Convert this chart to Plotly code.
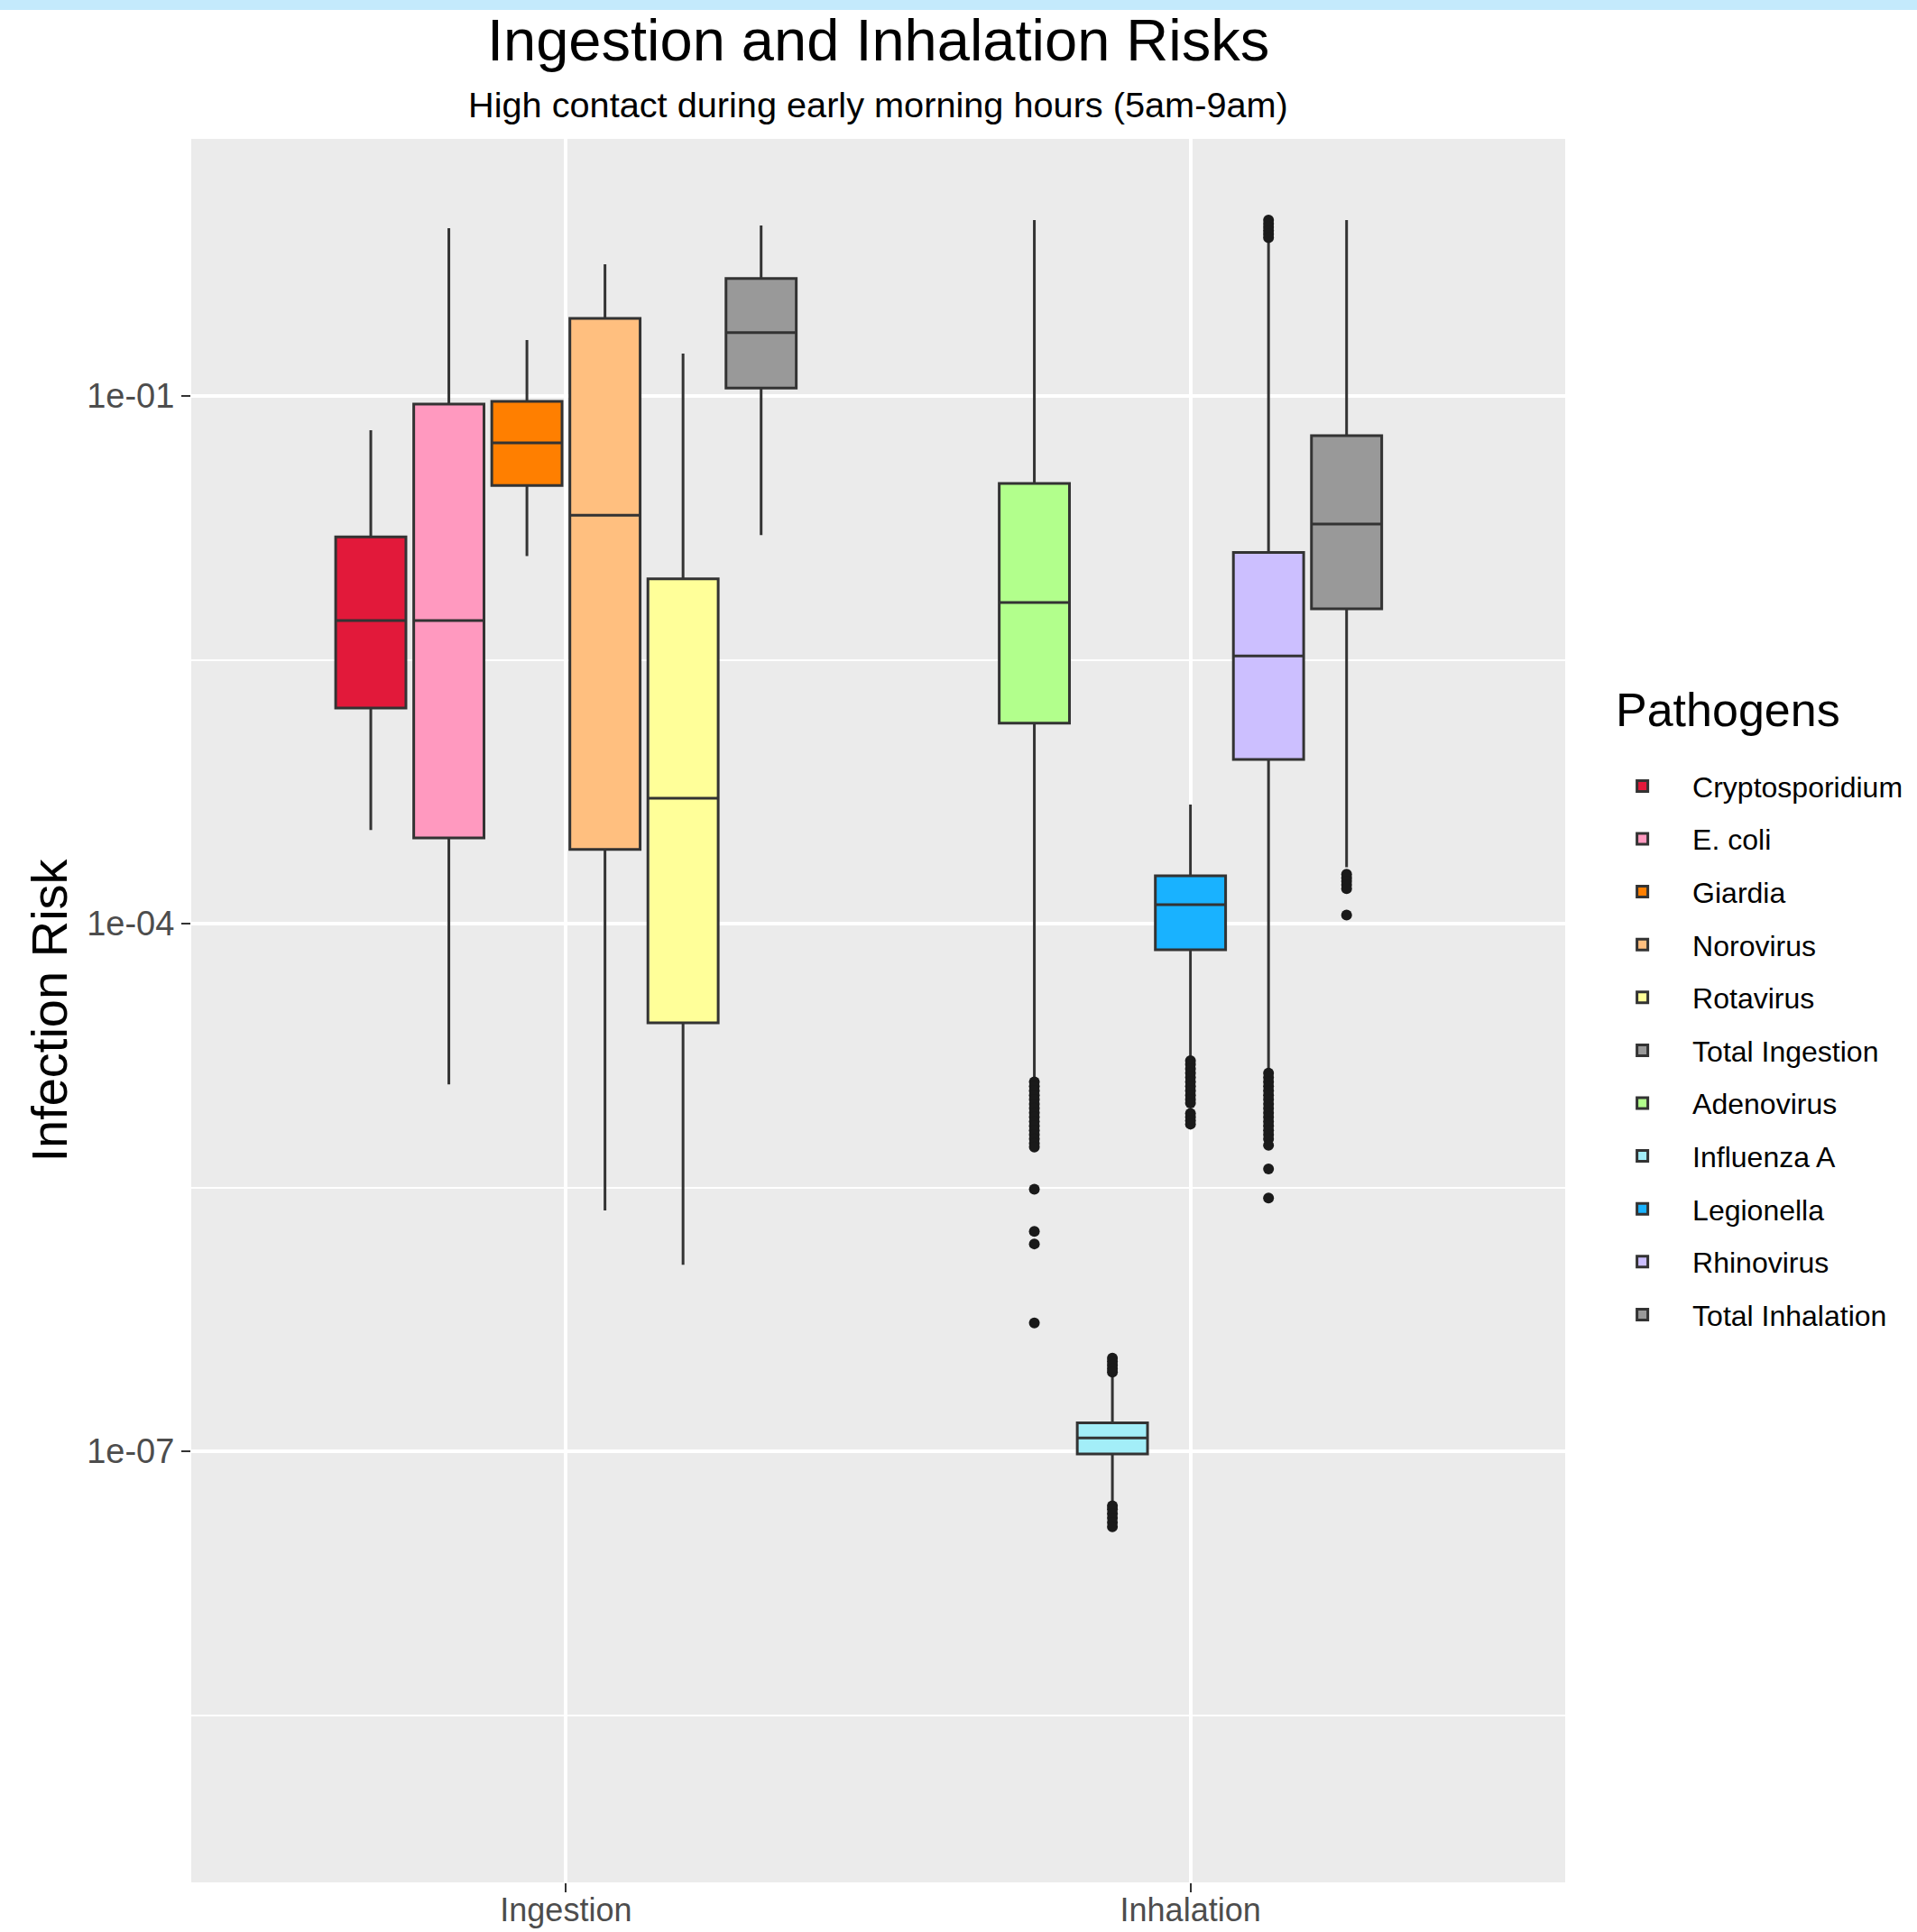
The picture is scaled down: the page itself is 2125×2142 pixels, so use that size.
import plotly.graph_objects as go

# ---------------- data ----------------
routes = ["Ingestion", "Inhalation"]
pathogens = ["Cryptosporidium", "E. coli", "Giardia", "Norovirus", "Rotavirus", "Total Ingestion",
             "Adenovirus", "Influenza A", "Legionella", "Rhinovirus", "Total Inhalation"]
route_of = ["Ingestion", "Ingestion", "Ingestion", "Ingestion", "Ingestion", "Ingestion",
            "Inhalation", "Inhalation", "Inhalation", "Inhalation", "Inhalation"]

lower_fence = [3.41e-4, 1.22e-5, 1.23e-2, 2.34e-6, 1.15e-6, 1.62e-2,
               1.32e-5, 5.16e-8, 1.74e-5, 1.48e-5, 2.09e-4]
q1 = [1.68e-3, 3.07e-4, 3.10e-2, 2.64e-4, 2.73e-5, 0.111,
      1.38e-3, 9.66e-8, 7.10e-5, 8.57e-4, 6.17e-3]
median = [5.28e-3, 5.28e-3, 5.41e-2, 2.10e-2, 5.16e-4, 0.229,
          6.70e-3, 1.19e-7, 1.28e-4, 3.33e-3, 1.87e-2]
q3 = [1.58e-2, 8.99e-2, 9.31e-2, 0.276, 9.12e-3, 0.465,
      3.18e-2, 1.45e-7, 1.87e-4, 1.29e-2, 5.94e-2]
upper_fence = [6.38e-2, 0.90, 0.208, 0.561, 0.174, 0.931,
               1.0, 2.75e-7, 4.75e-4, 0.76, 1.0]

outliers_adenovirus = [1.259e-5, 1.189e-5, 1.122e-5, 1.059e-5, 1.0e-5, 9.44e-6, 8.91e-6, 8.41e-6,
                       7.94e-6, 7.50e-6, 7.08e-6, 6.68e-6, 6.31e-6, 5.96e-6, 5.62e-6, 5.37e-6,
                       3.09e-6, 1.78e-6, 1.51e-6, 5.37e-7]
outliers_influenza = [3.39e-7, 3.24e-7, 3.09e-7, 2.95e-7, 2.82e-7,
                      4.90e-8, 4.68e-8, 4.42e-8, 4.17e-8, 3.94e-8, 3.72e-8]
outliers_legionella = [1.66e-5, 1.585e-5, 1.496e-5, 1.413e-5, 1.334e-5, 1.259e-5, 1.189e-5,
                       1.122e-5, 1.059e-5, 1.0e-5, 9.55e-6, 8.32e-6, 7.94e-6, 7.59e-6, 7.24e-6]
outliers_rhinovirus = [1.0, 0.955, 0.912, 0.871, 0.832, 0.794,
                       1.413e-5, 1.334e-5, 1.259e-5, 1.189e-5, 1.122e-5, 1.059e-5, 1.0e-5,
                       9.44e-6, 8.91e-6, 8.41e-6, 7.94e-6, 7.50e-6, 7.08e-6, 6.68e-6, 6.31e-6,
                       5.96e-6, 5.50e-6, 4.03e-6, 2.75e-6]
outliers_total_inhalation = [1.91e-4, 1.82e-4, 1.74e-4, 1.66e-4, 1.58e-4, 1.12e-4]

y_tickvals = [1e-7, 1e-4, 1e-1]
y_ticktext = ["1e-07", "1e-04", "1e-01"]
y_minor_grid = [10 ** -8.5, 10 ** -5.5, 10 ** -2.5]

# ---------------- styles ----------------
colors = ["#E2193A", "#FF99BF", "#FF7F00", "#FFBF7F", "#FFFF99", "#999999",
          "#B2FF8C", "#A3EEF8", "#19B2FF", "#CCBFFF", "#999999"]
FONT = "Liberation Sans, Arial, sans-serif"
EDGE = "#333333"

outliers = {
    "Adenovirus": outliers_adenovirus,
    "Influenza A": outliers_influenza,
    "Legionella": outliers_legionella,
    "Rhinovirus": outliers_rhinovirus,
    "Total Inhalation": outliers_total_inhalation,
}

# dodge like ggplot (preserve = "single"): every box gets 0.75 / max group size
max_n = max(route_of.count(r) for r in routes)
dodge = 0.75 / max_n
box_w = dodge * 0.9

fig = go.Figure()
positions = {}
for i, p in enumerate(pathogens):
    r = route_of[i]
    members = [q for q, rr in zip(pathogens, route_of) if rr == r]
    slot = members.index(p)
    pos = (routes.index(r) + 1) + (slot - (len(members) - 1) / 2) * dodge
    positions[p] = pos
    fig.add_trace(go.Box(
        x=[pos], q1=[q1[i]], median=[median[i]], q3=[q3[i]],
        lowerfence=[lower_fence[i]], upperfence=[upper_fence[i]],
        name=p, legendgroup=p, fillcolor=colors[i],
        line=dict(color=EDGE, width=3), whiskerwidth=0, width=box_w,
        boxpoints=False,
    ))

for p, vals in outliers.items():
    fig.add_trace(go.Scatter(
        x=[positions[p]] * len(vals), y=vals, mode="markers",
        marker=dict(color="#1a1a1a", size=12, line=dict(width=0)),
        showlegend=False, legendgroup=p, hoverinfo="y",
    ))

axis_common = dict(
    showgrid=True, gridcolor="white", gridwidth=4,
    ticks="outside", ticklen=10, tickwidth=2, tickcolor=EDGE,
    zeroline=False, showline=False, automargin=False,
)

fig.update_layout(
    width=2125, height=2142,
    margin=dict(l=212, r=389, t=154, b=55, pad=0),
    paper_bgcolor="white", plot_bgcolor="#EBEBEB",
    font=dict(family=FONT, color="black"),
    xaxis=dict(range=[0.4, 2.6], tickmode="array", tickvals=[1, 2], ticktext=routes,
               tickfont=dict(family=FONT, size=36, color="#4D4D4D"), ticklabelstandoff=-11,
               **axis_common),
    yaxis=dict(type="log", range=[-9.451, 0.4615], tickmode="array",
               tickvals=y_tickvals, ticktext=y_ticktext,
               tickfont=dict(family=FONT, size=38, color="#4D4D4D"),
               minor=dict(tickmode="array", tickvals=y_minor_grid, showgrid=True,
                          gridcolor="white", gridwidth=2, ticks=""),
               **axis_common),
    showlegend=True,
    legend=dict(
        x=1.0191, xanchor="left", y=0.643, yanchor="top",
        font=dict(family=FONT, size=32, color="black"),
        itemwidth=101,
        tracegroupgap=14, bgcolor="rgba(0,0,0,0)", traceorder="grouped",
    ),
    annotations=[
        dict(text="Ingestion and Inhalation Risks", xref="paper", yref="paper",
             x=0.5, y=1.0564, xanchor="center", yanchor="middle", showarrow=False,
             font=dict(family=FONT, size=65, color="black")),
        dict(text="High contact during early morning hours (5am-9am)", xref="paper", yref="paper",
             x=0.5, y=1.0197, xanchor="center", yanchor="middle", showarrow=False,
             font=dict(family=FONT, size=39.7, color="black")),
        dict(text="Infection Risk", xref="paper", yref="paper",
             x=-0.1037, y=0.5, xanchor="center", yanchor="middle", showarrow=False,
             textangle=-90, font=dict(family=FONT, size=56, color="black")),
        dict(text="Pathogens", xref="paper", yref="paper",
             x=1.0354, y=0.6725, xanchor="left", yanchor="middle", showarrow=False,
             font=dict(family=FONT, size=52, color="black")),
    ],
    shapes=[
        dict(type="rect", xref="paper", yref="paper", x0=-0.3, x1=1.5, y0=1.074, y1=1.2,
             fillcolor="#C4EAFC", line=dict(width=0), layer="above"),
    ],
)

fig.write_html("out.html")
